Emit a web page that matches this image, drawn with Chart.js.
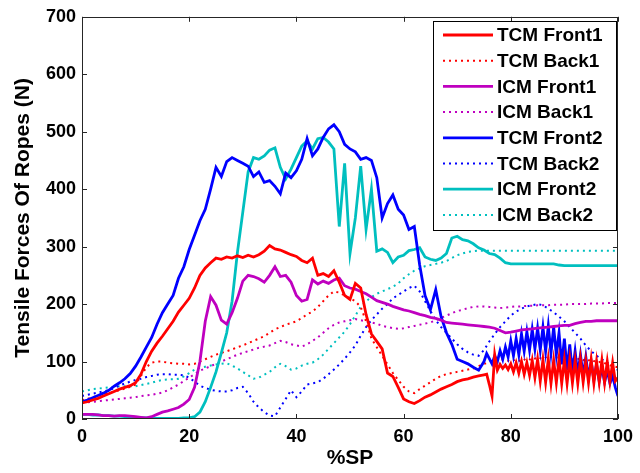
<!DOCTYPE html>
<html>
<head>
<meta charset="utf-8">
<script src="https://cdn.jsdelivr.net/npm/chart.js@4.4.1/dist/chart.umd.min.js"></script>
<style>
  html, body { margin: 0; padding: 0; background: #ffffff; }
  #wrap { width: 640px; height: 473px; }
</style>
</head>
<body>
<div id="wrap"><canvas id="c" width="640" height="473"></canvas></div>
<script>
// %SP positions (coarse, for most series)
const xValues = [0,1,2,3,4,5,6,7,8,9,10,11,12,13,14,15,16,17,18,19,20,21,22,23,24,25,26,27,28,29,30,31,32,33,34,35,36,37,38,39,40,41,42,43,44,45,46,47,48,49,50,51,52,53,54,55,56,57,58,59,60,61,62,63,64,65,66,67,68,69,70,71,72,73,74,75,76,77,78,79,80,81,82,83,84,85,86,87,88,89,90,91,92,93,94,95,96,97,98,99,100];
// %SP positions with finer sampling at the oscillating end (TCM Front series)
const xFine = [0,1,2,3,4,5,6,7,8,9,10,11,12,13,14,15,16,17,18,19,20,21,22,23,24,25,26,27,28,29,30,31,32,33,34,35,36,37,38,39,40,41,42,43,44,45,46,47,48,49,50,51,52,53,54,55,56,57,58,59,60,61,62,63,64,65,66,67,68,69,70,71,72,73,74,75,75.5,76,76.5,77,77.5,78,78.5,79,79.5,80,80.5,81,81.5,82,82.5,83,83.5,84,84.5,85,85.5,86,86.5,87,87.5,88,88.5,89,89.5,90,90.5,91,91.5,92,92.5,93,93.5,94,94.5,95,95.5,96,96.5,97,97.5,98,98.5,99,99.5,100];

const tcmFront1 = [28,30,33,36,40,44,48,52,55,58,63,78,100,118,132,144,157,170,186,198,210,228,250,263,272,280,278,282,280,284,281,285,282,286,292,302,296,294,290,286,283,276,272,280,250,253,248,258,238,215,208,236,228,182,148,135,122,80,74,55,35,30,27,32,38,42,47,52,56,60,65,68,70,73,75,
  77,78,60,40,112,85,95,88,94,86,96,82,98,80,100,78,98,76,102,72,104,66,103,64,104,62,102,63,105,62,103,62,104,63,102,62,104,64,101,63,103,62,100,64,102,63,100,65,98,66,72];

const tcmBack1 = [33,35,38,40,43,45,48,50,53,56,60,75,90,98,100,100,98,97,96,96,95,96,100,104,108,112,115,118,121,125,128,132,136,140,144,150,156,160,164,167,170,176,182,187,195,205,215,222,220,215,210,205,195,170,140,125,110,95,80,68,56,48,45,52,58,64,70,75,78,80,82,84,86,88,92,96,98,102,104,103,100,104,100,106,102,108,104,110,106,108,104,108,102,106,100,104,98,100,95,92,90];

const icmFront1 = [8,8,8,7,6,6,5,6,6,5,4,3,2,4,8,12,14,17,20,26,34,55,100,170,213,198,172,165,185,210,240,250,248,244,238,250,265,248,250,238,215,205,208,242,235,240,236,242,245,232,228,226,222,218,212,206,203,200,196,193,190,188,185,182,180,177,175,172,168,167,166,165,164,163,162,161,160,158,154,150,151,153,155,156,157,158,159,160,161,162,163,163,166,168,170,170,171,171,171,171,171];

const icmBack1 = [28,29,30,31,32,33,34,35,36,37,38,40,41,42,44,46,50,55,60,66,72,78,84,88,92,96,100,104,108,112,115,118,121,124,126,128,132,136,134,130,128,126,130,136,142,150,158,164,168,170,172,174,172,170,168,166,162,160,158,157,158,160,162,164,166,168,172,176,180,184,188,190,193,195,196,196,195,194,193,194,195,196,196,197,197,198,198,198,199,199,199,200,200,200,200,201,201,201,202,202,202];

const tcmFront2 = [30,33,37,41,45,50,57,63,70,79,92,108,125,142,165,185,200,215,245,265,295,320,345,365,400,438,422,448,455,450,445,440,422,430,412,415,405,392,428,420,432,452,488,458,470,490,505,512,500,478,470,465,452,455,450,420,350,375,390,365,355,330,335,268,215,190,225,178,150,130,104,100,96,90,85,
  100,114,105,96,110,100,119,104,125,108,136,110,140,112,148,118,152,120,156,122,158,120,160,118,162,115,160,112,150,95,140,85,130,80,118,78,112,75,108,72,100,68,95,66,90,64,85,62,75,55,40];

const tcmBack2 = [40,42,44,46,48,50,54,58,62,65,68,70,73,75,77,78,78,77,77,76,72,65,58,54,51,49,48,48,50,54,56,45,30,20,12,6,5,20,35,50,38,48,60,62,64,70,78,86,95,105,116,128,145,160,172,182,192,200,210,216,222,228,232,222,205,188,172,160,150,140,130,122,116,112,110,120,135,148,160,170,180,187,192,196,198,200,198,192,186,178,170,160,150,140,128,118,110,104,98,92,85];

const icmFront2 = [8,8,7,7,6,6,5,5,4,4,3,2,2,1,1,1,1,1,1,2,2,4,12,30,55,82,115,150,205,290,360,430,455,452,458,468,472,438,418,435,455,475,484,470,488,490,482,470,335,445,288,350,440,330,400,292,296,290,272,282,285,293,295,298,282,278,276,280,288,315,318,312,310,305,298,294,288,286,280,272,270,270,270,270,270,270,270,270,270,268,267,267,267,267,267,267,267,267,267,267,267];

const icmBack2 = [48,50,52,53,54,55,56,57,57,57,57,59,61,63,66,68,69,69,70,74,80,86,89,91,93,95,96,97,93,88,82,76,70,72,77,82,90,96,92,86,88,93,96,98,104,112,122,132,142,152,165,180,195,205,212,218,222,226,230,236,245,252,258,262,266,268,270,272,275,280,285,288,291,292,293,293,293,293,293,293,293,293,293,293,293,293,293,293,293,293,293,293,293,293,293,293,293,293,293,293,293];

const seriesNames = ['TCM Front1','TCM Back1','ICM Front1','ICM Back1','TCM Front2','TCM Back2','ICM Front2','ICM Back2'];
const xTicks = [0,20,40,60,80,100];
const yTicks = [0,100,200,300,400,500,600,700];

const RED = '#ff0000', MAG = '#bf00bf', BLUE = '#0000ff', CYAN = '#00bfbf';
const DOT = [2, 4];
const SOLID_W = 2.8, DOT_W = 2;

function pts(xs, arr) { return arr.map((v, i) => ({ x: xs[i], y: v })); }

const series = [
  { x: xFine, data: tcmFront1, color: RED, dotted: false },
  { x: xValues, data: tcmBack1, color: RED, dotted: true },
  { x: xValues, data: icmFront1, color: MAG, dotted: false },
  { x: xValues, data: icmBack1, color: MAG, dotted: true },
  { x: xFine, data: tcmFront2, color: BLUE, dotted: false },
  { x: xValues, data: tcmBack2, color: BLUE, dotted: true },
  { x: xValues, data: icmFront2, color: CYAN, dotted: false },
  { x: xValues, data: icmBack2, color: CYAN, dotted: true }
];

const datasets = series.map((s, i) => ({
  label: seriesNames[i],
  data: pts(s.x, s.data),
  borderColor: s.color,
  backgroundColor: s.color,
  borderWidth: s.dotted ? DOT_W : SOLID_W,
  borderDash: s.dotted ? DOT : [],
  pointRadius: 0,
  tension: 0,
  fill: false,
  order: s.dotted ? 2 : 1
}));

const FONT = "'Liberation Sans', Arial, sans-serif";

const framePlugin = {
  id: 'matlabFrame',
  afterDraw(chart) {
    const ctx = chart.ctx;
    const a = chart.chartArea;
    const xs = chart.scales.x, ys = chart.scales.y;
    ctx.save();
    ctx.strokeStyle = '#262626';
    ctx.lineWidth = 1;
    ctx.beginPath();
    xTicks.forEach(t => {
      const px = Math.round(xs.getPixelForValue(t)) + 0.5;
      ctx.moveTo(px, a.bottom); ctx.lineTo(px, a.bottom - 5);
      ctx.moveTo(px, a.top); ctx.lineTo(px, a.top + 5);
    });
    yTicks.forEach(t => {
      const py = Math.round(ys.getPixelForValue(t)) + 0.5;
      ctx.moveTo(a.left, py); ctx.lineTo(a.left + 5, py);
      ctx.moveTo(a.right, py); ctx.lineTo(a.right - 5, py);
    });
    ctx.stroke();
    ctx.strokeRect(Math.round(a.left) + 0.5, Math.round(a.top) + 0.5, Math.round(a.right - a.left) - 1, Math.round(a.bottom - a.top) - 1);

    // legend box
    const lx = 433, ly = 21, lw = 183, lh = 209;
    ctx.fillStyle = '#ffffff';
    ctx.fillRect(lx, ly, lw, lh);
    ctx.strokeStyle = '#000000';
    ctx.strokeRect(lx + 0.5, ly + 0.5, lw, lh);
    ctx.font = "bold 19px " + FONT;
    ctx.textBaseline = 'middle';
    ctx.textAlign = 'left';
    chart.data.datasets.forEach((ds, i) => {
      const ry = 35 + i * 25.7;
      ctx.beginPath();
      ctx.strokeStyle = ds.borderColor;
      ctx.lineWidth = ds.borderDash.length ? DOT_W : SOLID_W;
      ctx.setLineDash(ds.borderDash);
      ctx.moveTo(443, ry); ctx.lineTo(493, ry);
      ctx.stroke();
      ctx.setLineDash([]);
      ctx.fillStyle = '#000000';
      ctx.fillText(ds.label, 497, ry + 1);
    });
    ctx.restore();
  }
};

new Chart(document.getElementById('c'), {
  type: 'line',
  data: { datasets },
  plugins: [framePlugin],
  options: {
    responsive: false,
    animation: false,
    devicePixelRatio: 1,
    layout: { padding: { left: 0, right: 18, top: 15, bottom: 0 } },
    plugins: { legend: { display: false }, tooltip: { enabled: false } },
    scales: {
      x: {
        type: 'linear', min: 0, max: 100,
        afterFit(s) { s.height = 54; },
        afterBuildTicks(s) { s.ticks = xTicks.map(v => ({ value: v })); },
        grid: { display: false, drawTicks: false },
        border: { display: false },
        ticks: { color: '#000', padding: 7, font: { family: FONT, size: 18, weight: 'bold' }, maxRotation: 0 },
        title: { display: true, text: '%SP', color: '#000', padding: { top: 0, bottom: 2 }, font: { family: FONT, size: 21, weight: 'bold' } }
      },
      y: {
        type: 'linear', min: 0, max: 700,
        afterFit(s) { s.width = 82; },
        afterBuildTicks(s) { s.ticks = yTicks.map(v => ({ value: v })); },
        grid: { display: false, drawTicks: false },
        border: { display: false },
        ticks: { color: '#000', padding: 6, font: { family: FONT, size: 18, weight: 'bold' } },
        title: { display: true, text: 'Tensile Forces Of Ropes (N)', color: '#000', padding: { top: 11, bottom: 0 }, font: { family: FONT, size: 21, weight: 'bold' } }
      }
    }
  }
});
</script>
</body>
</html>
